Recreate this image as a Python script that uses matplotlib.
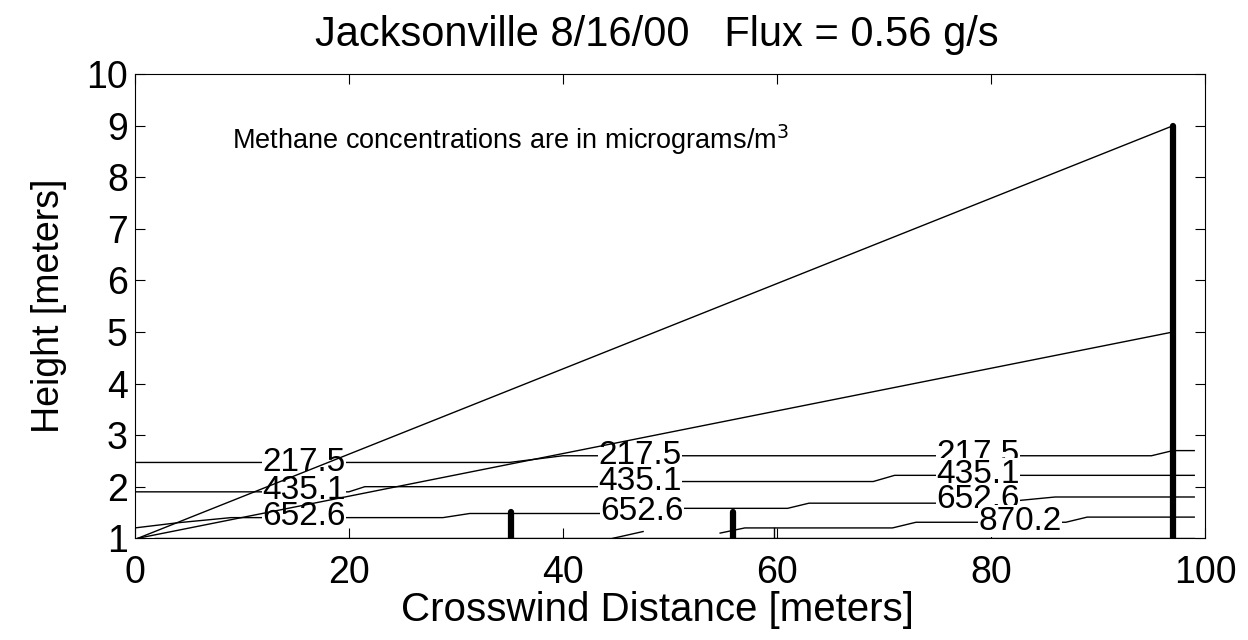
import matplotlib
matplotlib.use("Agg")
import matplotlib.pyplot as plt

plt.rcParams["font.family"] = ["Liberation Sans", "DejaVu Sans"]

title = "Jacksonville 8/16/00   Flux = 0.56 g/s"
note = "Methane concentrations are in micrograms/m$^3$"

# plume outline (from the source corner to the far tower)
plume_upper_x = [0.3, 97.0]
plume_upper_y = [1.0, 9.0]
plume_lower_x = [0.3, 97.0]
plume_lower_y = [1.0, 5.0]

# sampling towers: x position and top height
tower_x = [35.2, 55.9, 97.0]
tower_top = [1.5, 1.5, 9.0]

# contour polylines
c217_x = [0, 35, 40, 95, 97, 99]
c217_y = [2.47, 2.47, 2.6, 2.6, 2.7, 2.7]
c435_x = [0, 20, 21.5, 45, 50, 69, 71, 99]
c435_y = [1.9, 1.9, 2.0, 2.0, 2.1, 2.1, 2.22, 2.22]
c652_x = [0, 4, 9, 28.8, 31.3, 44, 50, 61, 63, 80, 86, 99]
c652_y = [1.2, 1.3, 1.4, 1.4, 1.48, 1.48, 1.58, 1.58, 1.68, 1.68, 1.8, 1.8]
c870_x = [54.7, 57, 59, 70.8, 73, 87, 89, 99]
c870_y = [1.1, 1.2, 1.2, 1.2, 1.31, 1.31, 1.41, 1.41]
c870_piece_x = [44.7, 47.5]
c870_piece_y = [1.0, 1.13]
base_x = [1.9, 99]
base_y = [1.0, 1.0]
stub_x = [59.7, 59.7]
stub_y = [1.0, 1.2]

# contour labels: text, x, y
label_text = ["217.5", "217.5", "217.5", "435.1", "435.1", "435.1",
              "652.6", "652.6", "652.6", "870.2"]
label_x = [15.8, 47.2, 78.8, 15.8, 47.2, 78.8, 15.8, 47.4, 78.8, 82.7]
label_y = [2.47, 2.6, 2.62, 1.92, 2.1, 2.24, 1.42, 1.52, 1.76, 1.33]

fig = plt.figure(figsize=(12.48, 6.4), dpi=100)
ax = fig.add_axes([0.108, 0.159, 0.8575, 0.725])

for xs, ys in [(c217_x, c217_y), (c435_x, c435_y), (c652_x, c652_y),
               (c870_x, c870_y), (c870_piece_x, c870_piece_y),
               (base_x, base_y), (stub_x, stub_y)]:
    ax.plot(xs, ys, color="black", lw=1.0, zorder=2)

for txt, lx, ly in zip(label_text, label_x, label_y):
    ax.text(lx, ly, txt, fontsize=24, ha="center", va="center", zorder=3,
            bbox=dict(facecolor="white", edgecolor="none", pad=0.2))

ax.plot(plume_upper_x, plume_upper_y, color="black", lw=1.0, zorder=4)
ax.plot(plume_lower_x, plume_lower_y, color="black", lw=1.0, zorder=4)

for tx, tt in zip(tower_x, tower_top):
    ax.plot([tx, tx], [1.0, tt], color="black", lw=4.5,
            solid_capstyle="round", zorder=5)

ax.text(9.1, 8.72, note, fontsize=19.5, ha="left", va="center")

ax.set_xlim(0, 100)
ax.set_ylim(1, 10)
ax.set_xticks(range(0, 101, 20))
ax.set_yticks(range(1, 11))
ax.tick_params(direction="in", length=7, width=0.8, labelsize=27,
               top=True, right=True)
ax.tick_params(axis="x", pad=12)
ax.tick_params(axis="y", pad=5)
for sp in ax.spines.values():
    sp.set_linewidth(0.8)

ax.set_title(title, fontsize=30, pad=20, x=0.488)
ax.set_xlabel("Crosswind Distance [meters]", fontsize=29, labelpad=0, x=0.488)
ax.set_ylabel("Height [meters]", fontsize=27, labelpad=14)

fig.savefig("out.png", dpi=100)
